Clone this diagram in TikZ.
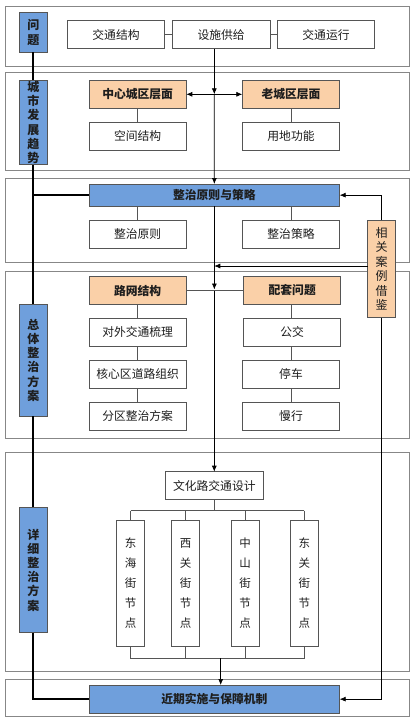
\documentclass[tikz,border=0pt]{standalone}
\usepackage{fontspec}
\setmainfont{Noto Sans CJK SC}
\usetikzlibrary{arrows.meta}
\definecolor{bluefill}{RGB}{111,159,220}
\definecolor{orfill}{RGB}{250,208,168}
\definecolor{panelgray}{RGB}{135,135,135}
\definecolor{boxgray}{RGB}{85,85,85}
\definecolor{txt}{RGB}{30,30,30}
\newcommand\bx[7]{\node[#1, minimum width={(#4-#2)*1pt}, minimum height={(#5-#3)*1pt}] (#6) at ({(#2+#4)/2},{(#3+#5)/2}) {#7};}
\tikzset{
  base/.style={draw=boxgray, line width=0.8pt, inner sep=0pt, outer sep=0pt, text=txt, align=center, font=\fontsize{11.8}{13}\selectfont},
  wbox/.style={base, fill=white},
  obox/.style={base, fill=orfill, font=\fontsize{11.8}{13}\selectfont\bfseries},
  bbox/.style={base, fill=bluefill, font=\fontsize{11.8}{13}\selectfont\bfseries},
  vbox/.style={base, fill=bluefill, font=\fontsize{12}{14.2}\selectfont\bfseries},
  vobox/.style={base, fill=orfill, font=\fontsize{12}{14.4}\selectfont},
  nbox/.style={base, fill=white, font=\fontsize{11.5}{20}\selectfont},
  panel/.style={draw=panelgray, line width=0.8pt},
  conn/.style={draw=boxgray, line width=0.8pt},
  arr/.style={draw=black, line width=0.7pt, -{Latex[length=6pt,width=5pt]}},
  darr/.style={draw=black, line width=0.7pt, {Latex[length=6pt,width=5pt]}-{Latex[length=6pt,width=5pt]}},
  spine/.style={draw=black, line width=2pt},
}
\begin{document}
\begin{tikzpicture}[x=1pt,y=-1pt]
\useasboundingbox (0,0) rectangle (412,724);
\fill[white] (0,0) rectangle (412,724);
% panels
\draw[panel] (5.7,6.7) rectangle (409.3,66);
\draw[panel] (5.7,72) rectangle (409.3,170);
\draw[panel] (5.7,178.3) rectangle (409.3,262.7);
\draw[panel] (5.7,271.3) rectangle (409.3,438.3);
\draw[panel] (5.7,452.7) rectangle (409.3,671);
\draw[panel] (5.7,679.3) rectangle (409.3,716);
\coordinate (vx) at (214.3,0);
\coordinate (cy) at (0,266);
\coordinate (bx2) at (220.7,658.3);
\coordinate (topbus) at (0,510.7);
\coordinate (ra) at (0,289.5);
\coordinate (lx) at (137.7,0);
\coordinate (rx) at (291,0);
% left vertical blue boxes
\bx{vbox}{19.3}{12.7}{47.3}{52.3}{q}{问\\题}
\bx{vbox}{19.3}{80}{47.3}{164.7}{trend}{城\\市\\发\\展\\趋\\势}
\bx{vbox}{19.3}{304.3}{47.3}{416}{overall}{总\\体\\整\\治\\方\\案}
\bx{vbox}{19.3}{507.3}{47.3}{632.7}{detail}{详\\细\\整\\治\\方\\案}
% row 1
\bx{wbox}{67.3}{20.7}{164.7}{48.7}{c1}{交通结构}
\bx{wbox}{172.3}{20.7}{270}{48.7}{c2}{设施供给}
\bx{wbox}{277.3}{20.7}{374.7}{48.7}{c3}{交通运行}
% row 2
\bx{obox}{89}{80.3}{186.3}{108.3}{center}{中心城区层面}
\bx{obox}{242.3}{80.3}{339.7}{108.3}{oldcity}{老城区层面}
\bx{wbox}{89}{122.3}{186.3}{150.3}{space}{空间结构}
\bx{wbox}{242.3}{122.3}{339.7}{150.3}{land}{用地功能}
% row 3
\bx{bbox}{89}{184}{339.7}{206.3}{principle}{整治原则与策略}
\bx{wbox}{89}{220}{186.3}{248.3}{p1}{整治原则}
\bx{wbox}{242.3}{220}{339.7}{248.3}{p2}{整治策略}
\bx{vobox}{367.7}{220}{395.3}{317.7}{case}{相\\关\\案\\例\\借\\鉴}
% row 4
\bx{obox}{89}{276.7}{186.3}{304.3}{road}{路网结构}
\bx{obox}{243.7}{276.7}{340.7}{304.3}{supp}{配套问题}
\bx{wbox}{89}{318.3}{186.3}{346}{r1}{对外交通梳理}
\bx{wbox}{89}{360.3}{186.3}{388.3}{r2}{核心区道路组织}
\bx{wbox}{89}{402.3}{186.3}{430}{r3}{分区整治方案}
\bx{wbox}{243.7}{318.3}{340.7}{346}{s1}{公交}
\bx{wbox}{242.3}{360.3}{339.7}{388.3}{s2}{停车}
\bx{wbox}{242.3}{402.3}{339.7}{430}{s3}{慢行}
% row 5
\bx{wbox}{165.6}{471.7}{263}{499.3}{design}{文化路交通设计}
\bx{nbox}{116.7}{520.3}{144.7}{646.3}{n1}{东\\海\\街\\节\\点}
\bx{nbox}{171.7}{520.3}{199.3}{646.3}{n2}{西\\关\\街\\节\\点}
\bx{nbox}{231}{520.3}{259}{646.3}{n3}{中\\山\\街\\节\\点}
\bx{nbox}{290.3}{520.3}{318.3}{646.3}{n4}{东\\关\\街\\节\\点}
% row 6
\bx{bbox}{89}{685}{339.7}{713.3}{near}{近期实施与保障机制}
% thick spine
\draw[spine] (q.south) -- (trend.north);
\draw[spine] (trend.south) -- (overall.north);
\draw[spine] (trend.south |- principle.west) -- (principle.west);
\draw[spine] (overall.south) -- (detail.north);
\draw[spine] (detail.south) |- (near.west);
% grey connectors
\draw[conn] (c1.east) -- (c2.west);
\draw[conn] (c2.east) -- (c3.west);
\draw[conn] (lx |- center.south) -- (lx |- space.north);
\draw[conn] (rx |- oldcity.south) -- (rx |- land.north);
\draw[conn] (lx |- principle.south) -- (lx |- p1.north);
\draw[conn] (rx |- principle.south) -- (rx |- p2.north);
\draw[conn] (road.east) -- (supp.west);
\draw[conn] (road.south) -- (r1.north);
\draw[conn] (r1.south) -- (r2.north);
\draw[conn] (r2.south) -- (r3.north);
\draw[conn] (rx |- supp.south) -- (rx |- s1.north);
\draw[conn] (rx |- s1.south) -- (rx |- s2.north);
\draw[conn] (rx |- s2.south) -- (rx |- s3.north);
\draw[conn] (design.south) -- (design.south |- topbus);
\draw[conn] (n1.north |- topbus) -- (n4.north |- topbus);
\draw[conn] (n1.north |- topbus) -- (n1.north);
\draw[conn] (n2.north |- topbus) -- (n2.north);
\draw[conn] (n3.north |- topbus) -- (n3.north);
\draw[conn] (n4.north |- topbus) -- (n4.north);
\draw[conn] (n1.south) -- (n1.south |- bx2) -- (n4.south |- bx2) -- (n4.south);
\draw[conn] (n2.south) -- (n2.south |- bx2);
\draw[conn] (n3.south) -- (n3.south |- bx2);
% main flow arrows
\draw[arr] (vx |- c2.south) -- (vx |- center.east);
\draw[arr] (vx |- center.east) -- (principle.north);
\draw[darr] (center.east) -- (oldcity.west);
\draw[arr] (principle.south) -- (principle.south |- ra);
\draw[arr] (vx |- road.east) -- (vx |- design.north);
\draw[arr] (bx2) -- (bx2 |- near.north);
% case arrows
\draw[arr] (case.north) |- (principle.east);
\draw[arr] (case.west |- cy) -- (vx |- cy);
\draw[arr] (case.south) |- (near.east);
\end{tikzpicture}
\end{document}
